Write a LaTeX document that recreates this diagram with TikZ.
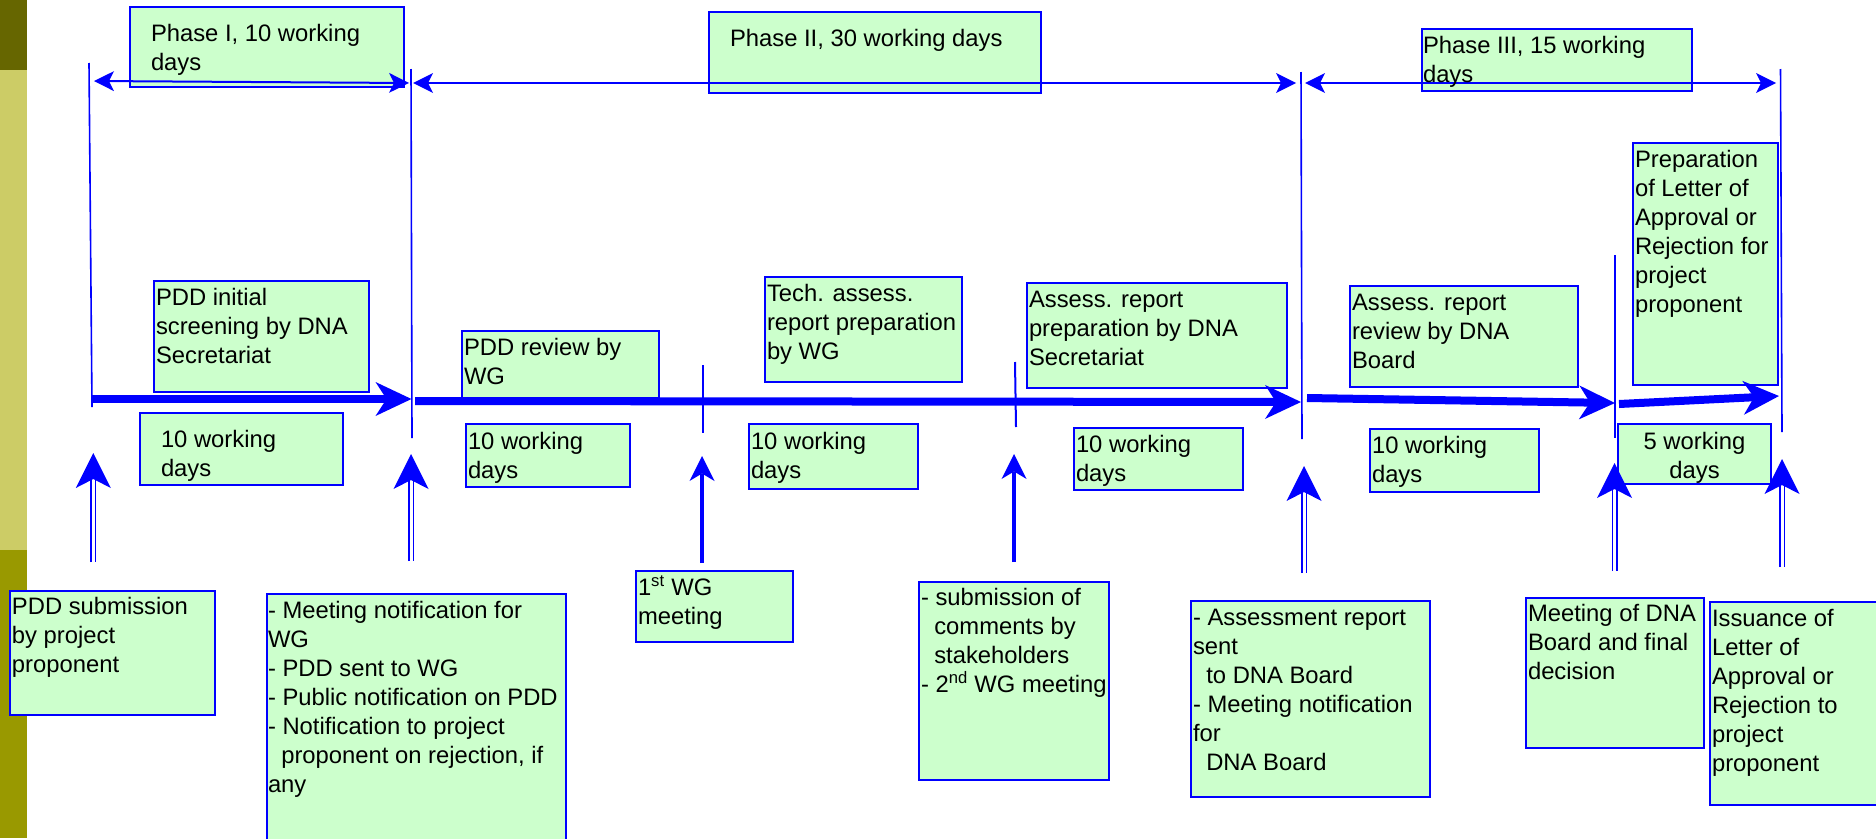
\documentclass[tikz,border=0pt]{standalone}
\usepackage{fontspec}
\setmainfont{Liberation Sans}
\usetikzlibrary{arrows.meta}
\definecolor{blu}{RGB}{0,0,255}
\definecolor{boxgreen}{RGB}{204,255,204}
\definecolor{olivetop}{RGB}{102,102,0}
\definecolor{olivemid}{RGB}{204,204,102}
\definecolor{olivelow}{RGB}{153,153,0}

\begin{document}
\begin{tikzpicture}[x=1pt,y=-1pt,
  box/.style={draw=blu, line width=2pt, fill=boxgreen, inner sep=0pt, outer sep=0pt, anchor=north west},
  txt/.style={anchor=north west, inner sep=0pt, outer sep=0pt, align=left, text=black,
              font=\fontsize{23.8}{29}\selectfont},
  divider/.style={draw=blu, line width=1.6pt},
  tick/.style={draw=blu, line width=2pt},
  phasearrow/.style={draw=blu, line width=2pt,
     {Stealth[length=20pt,width=20pt,inset=5pt,line width=0pt]}-{Stealth[length=20pt,width=20pt,inset=5pt,line width=0pt]}},
  timearrow/.style={draw=blu, line width=8pt,
     -{Stealth[length=36pt,width=34pt,inset=11pt,line width=0pt]}},
  duparrow/.style={draw=blu, line width=1.5pt, double=white, double distance=3pt,
     -{Stealth[length=35pt,width=35pt,inset=9pt,line width=0pt]}},
  suparrow/.style={draw=blu, line width=3.3pt,
     -{Stealth[length=25pt,width=25pt,inset=7.5pt,line width=0pt]}}
]
\useasboundingbox (0,0) rectangle (1876,838);
\clip (0,0) rectangle (1876,838);

% side band
\fill[olivetop] (0,0) rectangle (27,70);
\fill[olivemid] (0,70) rectangle (27,550);
\fill[olivelow] (0,550) rectangle (27,838);

% phase headers
\node[box, minimum width=274pt, minimum height=80pt] (ph1) at (130,7) {};
\node[box, minimum width=332pt, minimum height=81pt] (ph2) at (709,12) {};
\node[box, minimum width=270pt, minimum height=62pt] (ph3) at (1422,29) {};

% activities above the time line
\node[box, minimum width=215pt, minimum height=111pt] (b1) at (154,281) {};
\node[box, minimum width=197pt, minimum height=67pt]  (b2) at (462,331) {};
\node[box, minimum width=197pt, minimum height=105pt] (b3) at (765,277) {};
\node[box, minimum width=260pt, minimum height=105pt] (b4) at (1027,283) {};
\node[box, minimum width=228pt, minimum height=101pt] (b5) at (1350,286) {};
\node[box, minimum width=145pt, minimum height=242pt] (b6) at (1633,143) {};

% durations below the time line
\node[box, minimum width=203pt, minimum height=72pt] (w1) at (140,413) {};
\node[box, minimum width=164pt, minimum height=63pt] (w2) at (466,424) {};
\node[box, minimum width=169pt, minimum height=65pt] (w3) at (749,424) {};
\node[box, minimum width=169pt, minimum height=62pt] (w4) at (1074,428) {};
\node[box, minimum width=169pt, minimum height=63pt] (w5) at (1370,429) {};
\node[box, minimum width=153pt, minimum height=60pt] (w6) at (1618,424) {};

% events
\node[box, minimum width=205pt, minimum height=124pt] (c1) at (10,591) {};
\node[box, minimum width=299pt, minimum height=260pt] (c2) at (267,594) {};
\node[box, minimum width=157pt, minimum height=71pt]  (c3) at (636,571) {};
\node[box, minimum width=190pt, minimum height=198pt] (c4) at (919,582) {};
\node[box, minimum width=239pt, minimum height=196pt] (c5) at (1191,601) {};
\node[box, minimum width=178pt, minimum height=150pt] (c6) at (1526,598) {};
\node[box, minimum width=180pt, minimum height=203pt] (c7) at (1710,602) {};

% coordinates of lines and arrows
\coordinate (v1t) at (89,63);     \coordinate (v1b) at (92,407);
\coordinate (v2t) at (411,69);    \coordinate (v2b) at (412,438);
\coordinate (v3t) at (1301,72);   \coordinate (v3b) at (1302,439);
\coordinate (v4t) at (1615,255);  \coordinate (v4b) at (1615,438);
\coordinate (v5t) at (1780.5,69); \coordinate (v5b) at (1782,432);
\coordinate (k1t) at (703,365);   \coordinate (k1b) at (703,433);
\coordinate (k2t) at (1015,362);  \coordinate (k2b) at (1016,427);

\coordinate (p1a) at (94,81);    \coordinate (p1b) at (409,83);
\coordinate (p2a) at (413,83);   \coordinate (p2b) at (1296,83);
\coordinate (p3a) at (1305,83);  \coordinate (p3b) at (1776,83);

\coordinate (t1a) at (91,399);   \coordinate (t1b) at (411.5,399);
\coordinate (t2a) at (415,401);  \coordinate (t2b) at (1301,402);
\coordinate (t3a) at (1307,398); \coordinate (t3b) at (1615,403);
\coordinate (t4a) at (1619,404); \coordinate (t4b) at (1779,396);

\coordinate (u1a) at (93.3,562);  \coordinate (u1b) at (93.3,453);
\coordinate (u2a) at (411,561);   \coordinate (u2b) at (411,454);
\coordinate (u3a) at (702,563);   \coordinate (u3b) at (702,456);
\coordinate (u4a) at (1014,562);  \coordinate (u4b) at (1014,454);
\coordinate (u5a) at (1304,573);  \coordinate (u5b) at (1304,466);
\coordinate (u6a) at (1614.5,571);\coordinate (u6b) at (1614.5,463);
\coordinate (u7a) at (1782,567);  \coordinate (u7b) at (1782,459);

% phase dividers and milestones
\draw[divider] (v1t) -- (v1b);
\draw[divider] (v2t) -- (v2b);
\draw[divider] (v3t) -- (v3b);
\draw[divider] (v4t) -- (v4b);
\draw[divider] (v5t) -- (v5b);
\draw[tick] (k1t) -- (k1b);
\draw[tick] (k2t) -- (k2b);

% phase spans
\draw[phasearrow] (p1a) -- (p1b);
\draw[phasearrow] (p2a) -- (p2b);
\draw[phasearrow] (p3a) -- (p3b);

% time line
\draw[timearrow] (t1a) -- (t1b);
\draw[timearrow] (t2a) -- (t2b);
\draw[timearrow] (t3a) -- (t3b);
\draw[timearrow] (t4a) -- (t4b);

% event arrows
\draw[duparrow] (u1a) -- (u1b);
\draw[duparrow] (u2a) -- (u2b);
\draw[suparrow] (u3a) -- (u3b);
\draw[suparrow] (u4a) -- (u4b);
\draw[duparrow] (u5a) -- (u5b);
\draw[duparrow] (u6a) -- (u6b);
\draw[duparrow] (u7a) -- (u7b);

% texts
\node[txt] (tph1) at ([shift={(21,14)}]ph1.north west) {\strut Phase I, 10 working\\days};
\node[txt] (tph2) at ([shift={(21,14)}]ph2.north west) {\strut Phase II, 30 working days};
\node[txt] (tph3) at ([shift={(1,4)}]ph3.north west) {\strut Phase III, 15 working\\days};

\node[txt] (tb1) at ([shift={(2,4)}]b1.north west) {\strut PDD initial\\screening by DNA\\Secretariat};
\node[txt] (tb2) at ([shift={(2,4)}]b2.north west) {\strut PDD review by\\WG};
\node[txt] (tb3) at ([shift={(2,4)}]b3.north west) {\strut Tech. assess.\\report preparation\\by WG};
\node[txt] (tb4) at ([shift={(2,4)}]b4.north west) {\strut Assess. report\\preparation by DNA\\Secretariat};
\node[txt] (tb5) at ([shift={(2,4)}]b5.north west) {\strut Assess. report\\review by DNA\\Board};
\node[txt] (tb6) at ([shift={(2,4)}]b6.north west) {\strut Preparation\\of Letter of\\Approval or\\Rejection for\\project\\proponent};

\node[txt] (tw1) at ([shift={(21,14)}]w1.north west) {\strut 10 working\\days};
\node[txt] (tw2) at ([shift={(2,5)}]w2.north west) {\strut 10 working\\days};
\node[txt] (tw3) at ([shift={(2,5)}]w3.north west) {\strut 10 working\\days};
\node[txt] (tw4) at ([shift={(2,4)}]w4.north west) {\strut 10 working\\days};
\node[txt] (tw5) at ([shift={(2,4)}]w5.north west) {\strut 10 working\\days};
\node[txt, anchor=north, align=center] (tw6) at ([shift={(0,5)}]w6.north) {\strut 5 working\\days};

\node[txt] (tc1) at ([shift={(2,3)}]c1.north west) {\strut PDD submission\\by project\\proponent};
\node[txt] (tc2) at ([shift={(1,4)}]c2.north west) {\strut - Meeting notification for\\WG\\- PDD sent to WG\\- Public notification on PDD\\- Notification to project\\\hspace*{13.3pt}proponent on rejection, if\\any};
\node[txt] (tc3) at ([shift={(2,4)}]c3.north west) {\strut 1\textsuperscript{st} WG\\meeting};
\node[txt] (tc4) at ([shift={(2,3)}]c4.north west) {\strut - submission of\\\hspace*{13.3pt}comments by\\\hspace*{13.3pt}stakeholders\\- 2\textsuperscript{nd} WG meeting};
\node[txt] (tc5) at ([shift={(2,4)}]c5.north west) {\strut - Assessment report\\sent\\\hspace*{13.3pt}to DNA Board\\- Meeting notification\\for\\\hspace*{13.3pt}DNA Board};
\node[txt] (tc6) at ([shift={(2,3.5)}]c6.north west) {\strut Meeting of DNA\\Board and final\\decision};
\node[txt] (tc7) at ([shift={(2,4)}]c7.north west) {\strut Issuance of\\Letter of\\Approval or\\Rejection to\\project\\proponent};
\end{tikzpicture}
\end{document}
